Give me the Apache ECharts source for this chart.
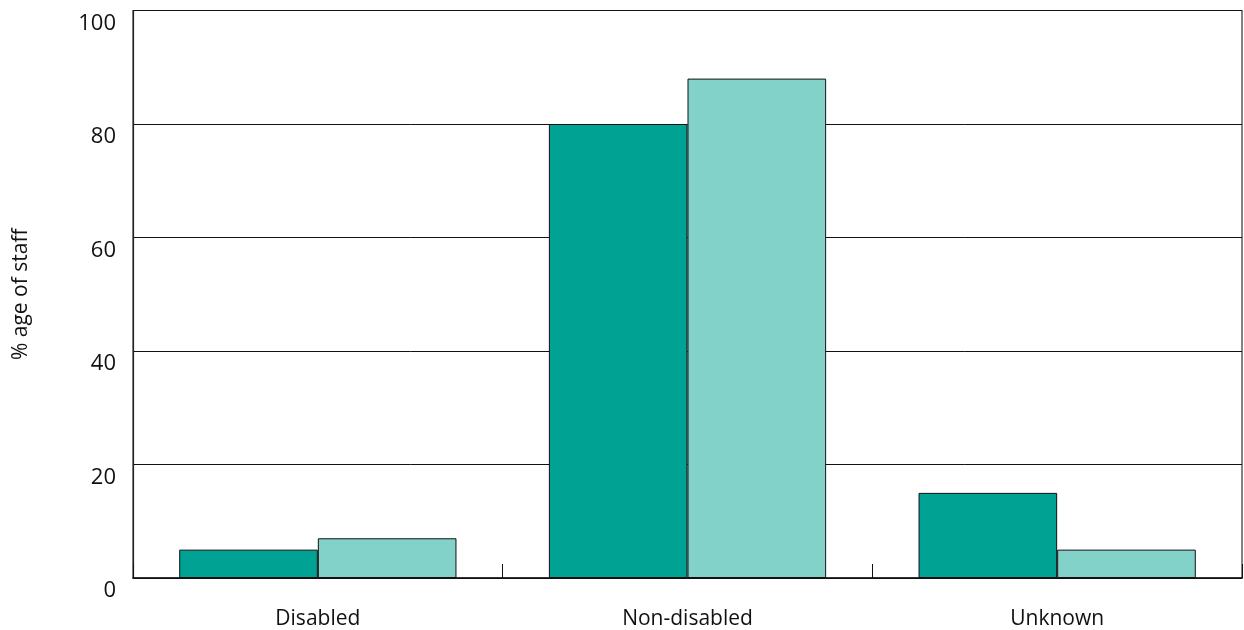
<!DOCTYPE html>
<html>
<head>
<meta charset="utf-8">
<script src="https://cdn.jsdelivr.net/npm/echarts@6/dist/echarts.min.js"></script>
<style>
  html, body { margin: 0; padding: 0; background: #fff; }
  #chart { width: 1244px; height: 630px; }
</style>
</head>
<body>
<div id="chart"></div>
<script>
// Staff breakdown by disability status, two series side by side
const categories = ['Disabled', 'Non-disabled', 'Unknown'];
const seriesA = [5, 80, 15];
const seriesB = [7, 88, 5];
const yTicks = [0, 20, 40, 60, 80, 100];

const FONT = '"Open Sans", "Noto Sans", sans-serif';

const chart = echarts.init(document.getElementById('chart'), null, { renderer: 'canvas' });
chart.setOption({
  animation: false,
  backgroundColor: '#ffffff',
  grid: {
    left: 133, right: 2, top: 10.5, bottom: 52,
    containLabel: false,
    outerBoundsMode: 'none',
    show: true, borderColor: '#333', borderWidth: 1.2, backgroundColor: 'transparent'
  },
  xAxis: {
    type: 'category',
    data: categories,
    axisLine: { show: true, lineStyle: { color: '#111', width: 1.5 } },
    axisTick: { show: true, inside: true, length: 14, lineStyle: { color: '#111', width: 1 } },
    axisLabel: { color: '#111', fontFamily: FONT, fontSize: 21, margin: 31 }
  },
  yAxis: {
    type: 'value',
    min: yTicks[0],
    max: yTicks[yTicks.length - 1],
    interval: 20,
    name: '% age of staff',
    nameLocation: 'middle',
    nameRotate: 90,
    nameGap: 101,
    nameTextStyle: { color: '#111', fontFamily: FONT, fontSize: 21 },
    axisLine: { show: true, lineStyle: { color: '#222', width: 1.2 } },
    axisTick: { show: false },
    axisLabel: {
      color: '#111', fontFamily: FONT, fontSize: 22, margin: 17,
      verticalAlign: 'top', padding: [2, 0, 0, 0]
    },
    splitLine: { show: true, lineStyle: { color: '#111', width: 1 } }
  },
  series: [
    {
      type: 'bar',
      data: seriesA,
      barGap: '0%',
      barCategoryGap: '25%',
      itemStyle: { color: '#00A294', borderColor: '#111', borderWidth: 1 }
    },
    {
      type: 'bar',
      data: seriesB,
      itemStyle: { color: '#82D2CA', borderColor: '#111', borderWidth: 1 }
    }
  ]
});
</script>
</body>
</html>
